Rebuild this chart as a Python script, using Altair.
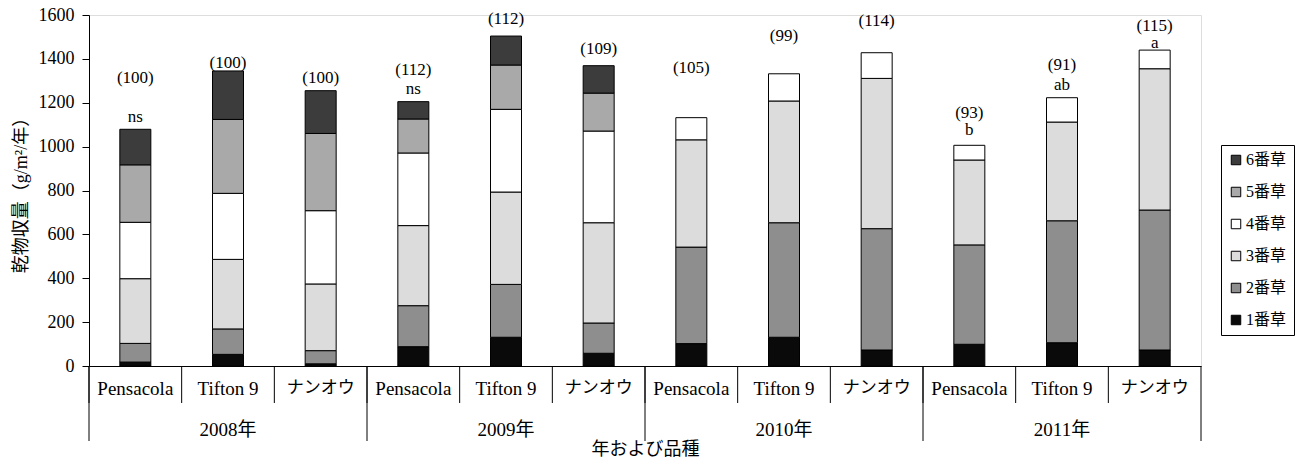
import altair as alt
import pandas as pd

# Years and cultivars (x axis: year groups, cultivar inside each group)
years = ["2008年", "2009年", "2010年", "2011年"]
varieties = ["Pensacola", "Tifton 9", "ナンオウ"]

# Dry-matter yield per cutting (g/m2/year), one value per year x cultivar
cut1 = [18, 53, 10, 88, 131, 58, 102, 131, 73, 99, 106, 73]
cut2 = [85, 116, 60, 187, 241, 138, 440, 522, 553, 453, 556, 638]
cut3 = [295, 317, 304, 365, 421, 457, 489, 555, 685, 387, 450, 644]
cut4 = [257, 301, 334, 331, 377, 418, 101, 124, 117, 67, 111, 85]
cut5 = [262, 337, 352, 155, 202, 173, 0, 0, 0, 0, 0, 0]
cut6 = [162, 221, 195, 79, 132, 125, 0, 0, 0, 0, 0, 0]
cut_names = ["1番草", "2番草", "3番草", "4番草", "5番草", "6番草"]

# Yield index relative to 2008 and significance letters
index_labels = ["(100)", "(100)", "(100)", "(112)", "(112)", "(109)",
                "(105)", "(99)", "(114)", "(93)", "(91)", "(115)"]
sig_letters = ["ns", "", "", "ns", "", "", "", "", "", "b", "ab", "a"]
# Heights (in yield units) at which the annotations sit
index_label_y = [1313, 1381, 1313, 1349, 1582, 1445, 1358, 1504, 1572, 1153, 1372, 1552]
sig_letter_y = [1135, 0, 0, 1263, 0, 0, 0, 0, 0, 1076, 1281, 1472]

keys = [f"{y}|{v}" for y in years for v in varieties]

rows = []
for i, k in enumerate(keys):
    for n, series in enumerate([cut1, cut2, cut3, cut4, cut5, cut6], start=1):
        if series[i] > 0:
            rows.append({"key": k, "cut": cut_names[n - 1], "cut_no": n, "value": series[i]})
bars_df = pd.DataFrame(rows)

notes_df = pd.DataFrame({"key": keys, "note": index_labels, "note_y": index_label_y})
sig_df = pd.DataFrame({"key": keys, "note": sig_letters, "note_y": sig_letter_y})
sig_df = sig_df[sig_df["note"] != ""]

short_sep = pd.DataFrame({"key": keys})
long_sep = pd.DataFrame({"key": [f"{y}|{varieties[0]}" for y in years]})
end_sep = pd.DataFrame({"key": [keys[-1]]})
year_df = pd.DataFrame({"key": [f"{y}|{varieties[1]}" for y in years], "year": years})

SERIF = "Liberation Serif, Noto Sans CJK JP"
SANS = "Noto Sans CJK JP"
W, H = 1112, 351
X_TITLE = "年および品種"
Y_TITLE = "乾物収量（g/m²/年）"

xscale = alt.Scale(type="band", domain=keys, paddingInner=0, paddingOuter=0)
yscale = alt.Scale(domain=[0, 1600], nice=False)

# Katakana cultivar name is set a little smaller than the Latin names
x_label_size = {"condition": {"test": "indexof(datum.value, 'ナンオウ') >= 0", "value": 17},
                "value": 19}

x_axis = alt.Axis(title=X_TITLE, labelExpr="split(datum.label, '|')[1]",
                  ticks=False, labelPadding=13, labelFontSize=x_label_size, labelFont=SERIF,
                  labelAngle=0, domainColor="black", titleFont=SANS,
                  titleFontSize=18, titleFontWeight="normal", titlePadding=42,
                  labelColor="black", titleColor="black", grid=False)
y_axis = alt.Axis(title=Y_TITLE, values=list(range(0, 1601, 200)), format="d",
                  grid=False, tickSize=7, tickColor="black", domainColor="black",
                  labelFont=SERIF, labelFontSize=18, labelPadding=8,
                  labelColor="black", titleFont=SERIF, titleFontSize=18,
                  titleFontWeight="normal", titlePadding=8, titleColor="black")

legend_order = cut_names[::-1]
fills = ["#3c3c3c", "#a9a9a9", "#ffffff", "#dcdcdc", "#8e8e8e", "#0a0a0a"]

bars = alt.Chart(bars_df).mark_bar(size=31, stroke="black", strokeWidth=1).encode(
    x=alt.X("key:N", scale=xscale, axis=x_axis, title=X_TITLE),
    y=alt.Y("sum(value):Q", scale=yscale, stack="zero", axis=y_axis, title=Y_TITLE),
    color=alt.Color("cut:N", scale=alt.Scale(domain=legend_order, range=fills),
                    title=None,
                    legend=alt.Legend(orient="none", legendX=1132, legendY=130,
                                      strokeColor="black", fillColor="white", padding=7,
                                      symbolType="square", symbolSize=90,
                                      symbolStrokeColor="black", symbolStrokeWidth=1,
                                      labelFont=SERIF, labelFontSize=16, labelColor="black",
                                      rowPadding=16, labelOffset=2)),
    order=alt.Order("cut_no:Q", sort="ascending"),
)

notes = alt.Chart(notes_df).mark_text(font=SERIF, fontSize=17, color="black",
                                      baseline="middle").encode(
    x=alt.X("key:N", scale=xscale, axis=x_axis, title=X_TITLE),
    y=alt.Y("note_y:Q", scale=yscale, axis=y_axis, title=Y_TITLE),
    text="note:N",
)
sig = alt.Chart(sig_df).mark_text(font=SERIF, fontSize=17, color="black",
                                  baseline="middle").encode(
    x=alt.X("key:N", scale=xscale, axis=x_axis, title=X_TITLE),
    y=alt.Y("note_y:Q", scale=yscale, axis=y_axis, title=Y_TITLE),
    text="note:N",
)

short_rules = alt.Chart(short_sep).mark_rule(color="black", strokeWidth=1).encode(
    x=alt.X("key:N", scale=xscale, bandPosition=0, axis=x_axis, title=X_TITLE),
    y=alt.value(H), y2=alt.value(H + 37),
)
long_rules = alt.Chart(long_sep).mark_rule(color="black", strokeWidth=1).encode(
    x=alt.X("key:N", scale=xscale, bandPosition=0, axis=x_axis, title=X_TITLE),
    y=alt.value(H), y2=alt.value(H + 75),
)
end_rule = alt.Chart(end_sep).mark_rule(color="black", strokeWidth=1).encode(
    x=alt.X("key:N", scale=xscale, bandPosition=1, axis=x_axis, title=X_TITLE),
    y=alt.value(H), y2=alt.value(H + 75),
)
year_text = alt.Chart(year_df).mark_text(font=SERIF, fontSize=19, color="black",
                                         baseline="middle").encode(
    x=alt.X("key:N", scale=xscale, axis=x_axis, title=X_TITLE),
    y=alt.value(H + 64),
    text="year:N",
)

chart = alt.layer(bars, notes, sig, short_rules, long_rules, end_rule, year_text).properties(
    width=W, height=H, autosize="none",
    padding={"left": 89, "top": 15, "right": 109, "bottom": 103},
).configure_view(stroke="transparent", strokeWidth=0).configure(background="white")

chart.save("out.html", embed_options={"renderer": "svg", "actions": False})
